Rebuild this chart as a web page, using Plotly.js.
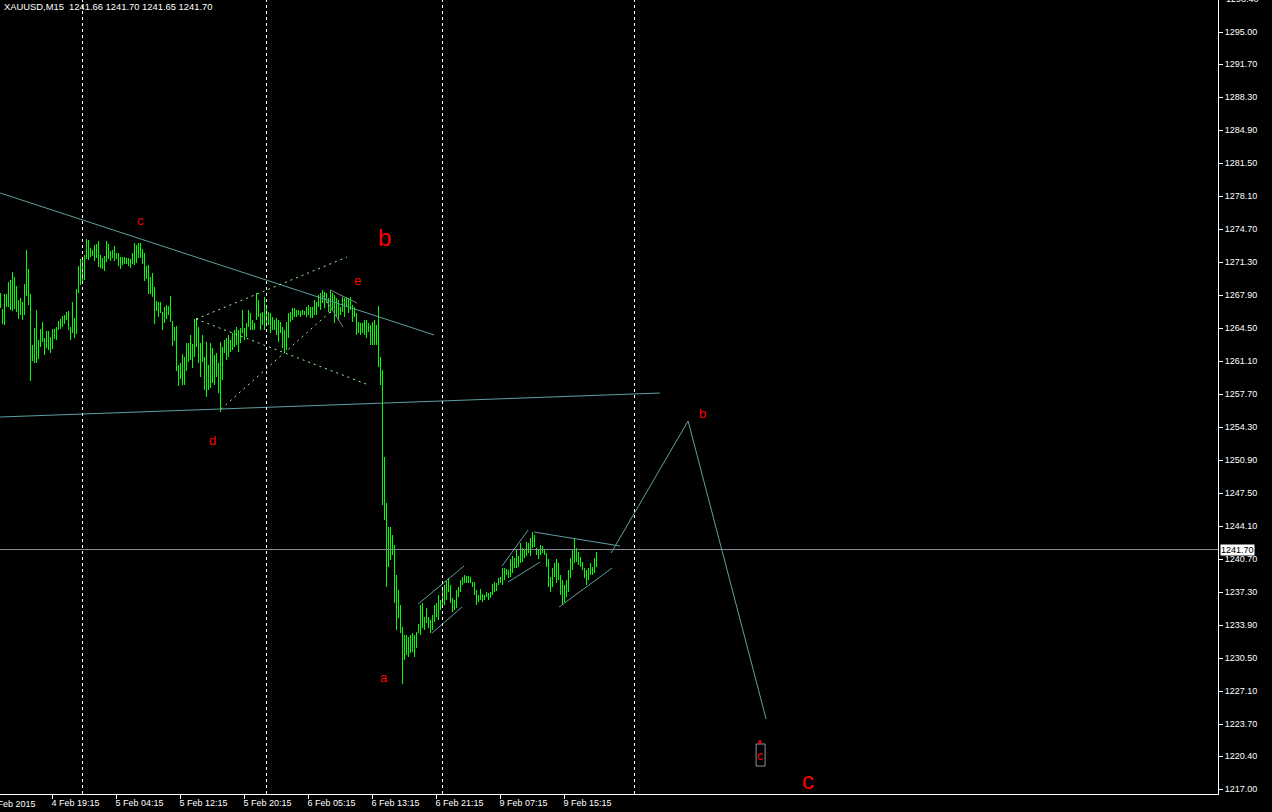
<!DOCTYPE html>
<html>
<head>
<meta charset="utf-8">
<script src="https://cdn.plot.ly/plotly-3.0.1.min.js"></script>
<style>html,body{margin:0;padding:0;background:#000;}#chart{width:1272px;height:812px;}</style>
</head>
<body>
<div id="chart"></div>
<script>
// ---- Data (XAUUSD M15, one bar per 15 minutes, bar index = position) ----
const highs = [
1268.1,1266.5,1268.0,1268.0,1269.3,1269.5,1270.3,1269.8,1268.8,1267.4,
1267.6,1267.2,1269.1,1272.6,1270.6,1268.0,1262.8,1264.5,1266.4,1263.3,
1264.4,1265.1,1263.5,1264.2,1264.2,1263.6,1264.4,1264.4,1264.6,1265.2,
1265.4,1265.8,1265.9,1266.2,1266.3,1264.6,1267.2,1265.5,1268.5,1270.9,
1271.6,1271.8,1272.0,1273.7,1273.6,1272.8,1272.6,1273.1,1273.2,1273.5,
1272.0,1271.7,1271.9,1273.5,1273.2,1272.4,1272.6,1273.0,1272.2,1272.2,
1271.8,1271.8,1271.8,1271.7,1271.7,1271.6,1272.2,1273.3,1273.1,1273.3,
1273.3,1272.7,1272.2,1270.9,1271.0,1269.8,1270.2,1268.7,1267.3,1267.2,
1267.2,1266.2,1266.7,1266.9,1266.8,1267.8,1265.2,1264.6,1264.7,1260.7,
1260.9,1261.8,1261.5,1263.0,1263.0,1263.8,1262.9,1265.4,1265.5,1264.6,
1263.0,1263.8,1261.5,1263.1,1260.7,1263.0,1262.5,1261.7,1261.9,1260.9,
1263.1,1262.6,1263.3,1263.5,1263.8,1263.3,1264.0,1264.3,1264.6,1264.3,
1264.5,1266.4,1264.5,1265.0,1266.4,1266.1,1265.3,1265.0,1268.1,1267.4,
1266.1,1266.2,1267.7,1266.9,1266.2,1266.1,1265.7,1265.3,1265.5,1265.3,
1265.1,1264.6,1264.3,1265.1,1266.1,1266.2,1266.6,1266.6,1266.4,1266.4,
1266.3,1266.4,1266.3,1266.7,1266.9,1266.7,1266.7,1267.4,1267.2,1267.9,
1268.1,1268.4,1268.2,1268.1,1267.6,1268.4,1268.1,1267.9,1267.6,1267.4,
1266.7,1267.7,1267.6,1267.7,1267.6,1267.7,1266.9,1266.7,1266.1,1265.1,
1265.0,1265.0,1265.3,1265.3,1265.0,1264.8,1265.1,1265.3,1264.8,1266.8,
1261.5,1260.2,1251.2,1246.5,1244.0,1244.0,1243.2,1242.2,1239.1,1237.5,
1236.0,1233.7,1232.9,1232.9,1232.7,1232.9,1233.1,1232.9,1233.2,1234.0,
1236.0,1236.2,1234.8,1235.7,1234.8,1234.4,1235.0,1236.0,1236.2,1237.0,
1236.5,1237.5,1238.0,1238.6,1238.8,1238.0,1236.7,1236.5,1237.5,1237.8,
1238.6,1238.9,1239.1,1239.0,1239.0,1238.9,1238.4,1238.4,1237.5,1237.0,
1237.6,1237.1,1237.0,1237.3,1237.2,1237.3,1238.2,1238.4,1238.3,1238.8,
1238.9,1239.8,1239.8,1239.7,1239.6,1240.7,1241.0,1240.8,1241.7,1241.0,
1242.4,1241.9,1241.8,1242.5,1242.4,1242.9,1243.5,1243.2,1241.9,1241.7,
1242.2,1242.1,1241.7,1241.3,1240.7,1238.9,1239.8,1240.3,1240.7,1240.3,
1239.1,1238.6,1238.0,1238.6,1239.6,1240.8,1241.8,1242.9,1241.9,1241.4,
1240.9,1240.4,1239.8,1239.6,1239.8,1240.3,1239.9,1240.8,1241.4,1241.70
];
const lows = [
1266.6,1264.9,1264.8,1266.7,1266.7,1266.4,1266.3,1266.5,1266.2,1265.4,
1265.9,1265.3,1265.9,1267.8,1266.9,1259.1,1261.1,1260.9,1260.9,1261.3,
1262.6,1263.1,1261.7,1262.5,1262.3,1261.9,1262.4,1263.4,1263.3,1264.3,
1264.4,1264.6,1264.9,1265.3,1264.3,1263.3,1264.0,1263.5,1263.9,1268.1,
1268.9,1269.3,1269.5,1271.6,1271.5,1271.8,1271.9,1271.4,1271.7,1270.8,
1270.7,1270.6,1270.4,1271.3,1271.6,1271.4,1271.7,1271.4,1271.6,1270.9,
1270.6,1271.0,1271.1,1271.1,1270.9,1270.7,1271.1,1271.0,1271.2,1271.7,
1271.7,1271.1,1269.4,1269.6,1268.0,1268.0,1267.7,1264.9,1266.3,1265.7,
1266.1,1264.3,1265.0,1265.4,1265.9,1265.1,1262.7,1263.2,1260.1,1258.5,
1259.3,1258.6,1258.6,1260.1,1261.0,1261.2,1260.4,1261.5,1262.6,1260.9,
1259.5,1261.0,1258.1,1257.4,1258.1,1258.3,1258.9,1258.6,1259.5,1257.8,
1255.9,1259.2,1261.9,1261.2,1261.5,1262.0,1262.3,1262.6,1262.8,1262.0,
1263.0,1264.0,1263.3,1263.6,1264.6,1264.3,1264.3,1264.3,1265.3,1265.7,
1264.3,1264.8,1264.3,1264.8,1264.8,1264.0,1264.3,1264.3,1263.8,1263.1,
1264.0,1262.5,1261.9,1262.3,1263.5,1265.1,1265.3,1265.7,1265.7,1265.9,
1265.7,1265.9,1265.9,1265.7,1265.9,1265.5,1265.5,1265.9,1265.9,1266.7,
1266.4,1267.1,1266.6,1267.1,1266.2,1266.1,1266.4,1265.0,1265.7,1265.3,
1265.9,1266.2,1265.7,1266.7,1266.1,1266.4,1265.1,1265.7,1263.8,1264.0,
1263.8,1264.0,1263.8,1263.5,1264.1,1262.8,1262.8,1262.8,1262.8,1260.5,
1258.6,1246.3,1244.7,1237.8,1239.9,1240.6,1241.1,1236.2,1233.4,1234.6,
1233.1,1227.9,1230.3,1230.8,1230.6,1231.0,1231.1,1230.6,1231.6,1233.1,
1232.9,1233.6,1233.4,1234.1,1233.6,1233.1,1233.4,1234.2,1234.8,1234.4,
1235.5,1235.7,1236.0,1236.5,1237.3,1236.2,1235.3,1235.5,1235.7,1236.8,
1237.3,1238.0,1238.3,1238.3,1238.3,1238.3,1237.8,1237.0,1236.0,1236.3,
1236.5,1236.3,1236.5,1236.8,1236.5,1236.7,1237.0,1237.3,1237.4,1238.0,
1238.3,1238.0,1238.6,1239.1,1238.8,1238.9,1239.3,1239.8,1239.8,1239.9,
1240.3,1240.4,1240.8,1241.0,1241.3,1241.0,1241.9,1242.0,1241.1,1240.7,
1241.1,1241.3,1241.1,1239.9,1237.8,1237.3,1237.8,1238.9,1238.3,1238.6,
1237.0,1236.0,1236.3,1236.8,1237.3,1238.8,1239.6,1240.3,1240.4,1240.1,
1239.9,1239.6,1238.8,1238.0,1238.6,1239.1,1239.1,1239.3,1239.9,1241.65
];
const lastQuote = ["1241.66","1241.70","1241.65","1241.70"];
const lastPrice = 1241.70;
const timeTickBars = [26, 58, 90, 122, 154, 186, 218, 250, 282];
const timeTickLabels = ["4 Feb 19:15","5 Feb 04:15","5 Feb 12:15","5 Feb 20:15","6 Feb 05:15","6 Feb 13:15","6 Feb 21:15","9 Feb 07:15","9 Feb 15:15"];
const firstDateLabel = "4 Feb 2015";
const priceTicks = [1217.00,1220.40,1223.70,1227.10,1230.50,1233.90,1237.30,1240.70,1244.10,1247.50,1250.90,1254.30,1257.70,1261.10,1264.50,1267.90,1271.30,1274.70,1278.10,1281.50,1284.90,1288.30,1291.70,1295.00];
const topPriceLabel = "1298.40";
const separatorBars = [41, 133, 221, 317];

// Analysis objects (bar index, price)
const trendLongX = [-0.17, 216.8];      const trendLongY = [1278.42, 1263.80];
const trendFlatX = [-0.17, 329.8];      const trendFlatY = [1255.35, 1257.82];
const dotUpX = [97.8, 173.3];           const dotUpY = [1265.44, 1271.83];
const dotDownX = [97.8, 182.8];         const dotDownY = [1265.44, 1258.75];
const dotRiseX = [110.3, 164.8];        const dotRiseY = [1256.17, 1266.16];
const eLine1X = [164.8, 178.3];         const eLine1Y = [1268.43, 1267.09];
const eLine2X = [160.8, 171.3];         const eLine2Y = [1268.02, 1264.62];
const ch1UpX = [208.8, 231.8];          const ch1UpY = [1236.09, 1240.00];
const ch1LoX = [215.8, 230.8];          const ch1LoY = [1233.10, 1235.78];
const ch2UpX = [250.8, 263.8];          const ch2UpY = [1240.00, 1243.71];
const ch2LoX = [253.8, 269.8];          const ch2LoY = [1238.35, 1240.41];
const triUpX = [266.8, 309.8];          const triUpY = [1243.50, 1242.06];
const triLoX = [279.3, 305.8];          const triLoY = [1235.78, 1239.80];
const projX = [305.3, 343.8, 382.8];    const projY = [1241.34, 1254.94, 1224.24];

const waveText = ["c","b","e","d","a","b","c","c"];
const waveX    = [69.8, 191.8, 178.3, 105.8, 191.8, 350.8, 379.8, 403.8];
const waveY    = [1275.54, 1273.79, 1269.46, 1252.98, 1228.57, 1255.66, 1220.43, 1217.86];
const waveSize = [13, 24, 13, 13, 13, 13, 12, 24];

// ---- Build ----
const barIdx = highs.map((_, i) => i);
const traces = [];
traces.push({
  type: 'bar', x: barIdx, base: lows, y: highs.map((h, i) => h - lows[i]),
  width: 0.5, marker: {color: '#00ff00', line: {width: 0}}, hoverinfo: 'skip'
});
const cadet = '#5f9ea0';
function line(x, y, color, dash, w) {
  traces.push({type: 'scatter', mode: 'lines', x: x, y: y, hoverinfo: 'skip',
    line: {color: color, width: w || 1, dash: dash || 'solid'}});
}
line(trendLongX, trendLongY, cadet);
line(trendFlatX, trendFlatY, cadet);
line(dotUpX, dotUpY, '#98fb98', '2px,4px');
line(dotDownX, dotDownY, '#98fb98', '2px,4px');
line(dotRiseX, dotRiseY, '#98fb98', '2px,4px');
line(eLine1X, eLine1Y, '#778899');
line(eLine2X, eLine2Y, '#778899');
line(ch1UpX, ch1UpY, cadet); line(ch1LoX, ch1LoY, cadet);
line(ch2UpX, ch2UpY, cadet); line(ch2LoX, ch2LoY, cadet);
line(triUpX, triUpY, cadet); line(triLoX, triLoY, cadet);
line(projX, projY, cadet);

const shapes = [];
separatorBars.forEach(b => shapes.push({type: 'line', xref: 'x', yref: 'paper', x0: b, x1: b, y0: 0, y1: 1,
  line: {color: '#ffffff', width: 1, dash: '3px,3px'}, layer: 'above'}));
shapes.push({type: 'line', xref: 'paper', yref: 'y', x0: 0, x1: 1, y0: lastPrice, y1: lastPrice,
  line: {color: '#848c94', width: 1}});
shapes.push({type: 'rect', xref: 'x', yref: 'y', x0: 377.8, x1: 382.3, y0: 1219.40, y1: 1221.67,
  line: {color: '#8a939c', width: 1}});
shapes.push({type: 'rect', xref: 'x', yref: 'y', x0: 379.2, x1: 380.2, y0: 1221.75, y1: 1222.0,
  line: {color: '#ff0000', width: 1}, fillcolor: '#ff0000'});

const font = 'Liberation Sans, Arial, sans-serif';
const annotations = [];
annotations.push({xref: 'paper', yref: 'paper', x: 0, y: 1, xanchor: 'left', yanchor: 'top', xshift: 2, yshift: 1,
  showarrow: false, text: 'XAUUSD,M15\u00a0\u00a0' + lastQuote.join(' '),
  font: {family: font, size: 9.4, color: '#ffffff'}});
waveText.forEach((t, i) => annotations.push({xref: 'x', yref: 'y', x: waveX[i], y: waveY[i], showarrow: false,
  text: t, xanchor: 'center', yanchor: 'middle', font: {family: font, size: waveSize[i], color: '#ff0000'}}));
annotations.push({xref: 'paper', yref: 'y', x: 1, y: lastPrice, xanchor: 'left', yanchor: 'middle', xshift: 2,
  showarrow: false, text: lastPrice.toFixed(2), bgcolor: '#ffffff', borderpad: 0,
  font: {family: font, size: 9, color: '#000000'}});
annotations.push({xref: 'paper', yref: 'paper', x: 1, y: 1, xanchor: 'left', yanchor: 'middle', xshift: 6, yshift: 1,
  showarrow: false, text: topPriceLabel, font: {family: font, size: 9, color: '#ffffff'}});
annotations.push({xref: 'paper', yref: 'paper', x: 0, y: 0, xanchor: 'left', yanchor: 'top', xshift: -12, yshift: -3,
  showarrow: false, text: firstDateLabel, font: {family: font, size: 9, color: '#ffffff'}});

const layout = {
  width: 1272, height: 812,
  paper_bgcolor: '#000000', plot_bgcolor: '#000000',
  margin: {l: 0, r: 54, t: 0, b: 18},
  showlegend: false, bargap: 0,
  font: {family: font, color: '#ffffff'},
  xaxis: {range: [-0.25, 608.75], showgrid: false, zeroline: false, fixedrange: true,
    tickmode: 'array', tickvals: timeTickBars, ticktext: timeTickLabels,
    ticks: 'outside', ticklen: 4, tickcolor: '#ffffff', tickwidth: 1,
    ticklabelposition: 'outside right', ticklabelshift: -2,
    tickfont: {family: font, size: 9, color: '#ffffff'},
    showline: true, linecolor: '#ffffff', linewidth: 1},
  yaxis: {range: [1216.52, 1298.3], side: 'right', showgrid: false, zeroline: false, fixedrange: true,
    tickmode: 'array', tickvals: priceTicks, ticktext: priceTicks.map(v => v.toFixed(2)),
    ticks: 'outside', ticklen: 4, tickcolor: '#ffffff', tickwidth: 1,
    tickfont: {family: font, size: 9, color: '#ffffff'},
    showline: true, linecolor: '#ffffff', linewidth: 1},
  shapes: shapes, annotations: annotations
};
Plotly.newPlot('chart', traces, layout, {staticPlot: true, displayModeBar: false});
</script>
</body>
</html>
